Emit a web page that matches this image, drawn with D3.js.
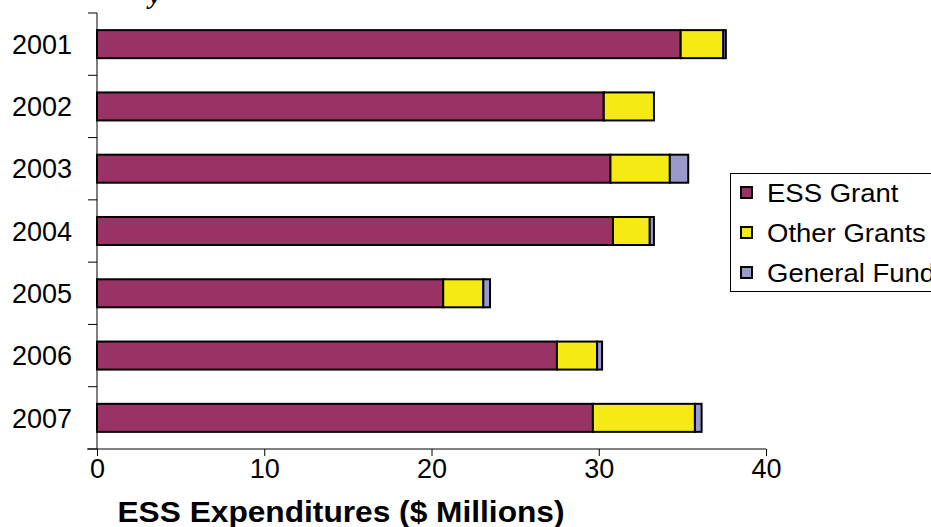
<!DOCTYPE html>
<html>
<head>
<meta charset="utf-8">
<script src="https://cdn.jsdelivr.net/npm/d3@7"></script>
<style>
  html, body { margin: 0; padding: 0; background: #fff; }
  svg { display: block; }
  text { font-family: Arial, "Liberation Sans", sans-serif; fill: #000; }
</style>
</head>
<body>
<svg id="chart" width="931" height="527"></svg>
<script>
// ---- data ----
const years = ["2001", "2002", "2003", "2004", "2005", "2006", "2007"];
const essGrant     = [34.9, 30.3, 30.7, 30.85, 20.7, 27.5, 29.65];
const otherGrants  = [2.55, 3.0, 3.55, 2.2, 2.4, 2.4, 6.1];
const generalFund  = [0.15, 0.0, 1.1, 0.25, 0.4, 0.3, 0.4];
const seriesNames  = ["ESS Grant", "Other Grants", "General Fund"];
const xTicks       = [0, 10, 20, 30, 40];
const xTitle       = "ESS Expenditures ($ Millions)";
const colors       = ["#993366", "#f5ea14", "#9999cc"];

const rows = years.map((yr, i) => ({
  year: yr, "ESS Grant": essGrant[i], "Other Grants": otherGrants[i], "General Fund": generalFund[i]
}));

const svg = d3.select("#chart");

const x = d3.scaleLinear().domain([0, 40]).range([97, 766]);
const y = d3.scaleBand().domain(years).range([13, 449]).paddingInner(0.55).paddingOuter(0.275);

// cut-off title glyph at the top
svg.append("text").attr("x", 149).attr("y", 4)
  .style("font-family", "'Liberation Serif', 'Times New Roman', serif")
  .style("font-style", "italic").style("font-weight", "bold").style("font-size", "26px")
  .text("y");

// stacked bars
const stack = d3.stack().keys(seriesNames)(rows);
svg.append("g").selectAll("g").data(stack).join("g")
  .attr("fill", (d, i) => colors[i])
  .selectAll("rect").data(d => d.filter(s => s[1] - s[0] > 0)).join("rect")
  .attr("x", d => x(d[0]))
  .attr("y", d => y(d.data.year))
  .attr("width", d => x(d[1]) - x(d[0]))
  .attr("height", y.bandwidth())
  .attr("stroke", "#000").attr("stroke-width", 2);

// y axis line + ticks at band boundaries
const yAxisG = svg.append("g");
yAxisG.append("line").attr("x1", x(0)).attr("x2", x(0))
  .attr("y1", y.range()[0]).attr("y2", y.range()[1]).attr("stroke", "#000").attr("stroke-width", 1);
const bounds = d3.range(years.length + 1).map(i => y.range()[0] + i * y.step());
yAxisG.selectAll("line.tk").data(bounds).join("line").attr("class", "tk")
  .attr("x1", x(0) - 9).attr("x2", x(0)).attr("y1", d => d).attr("y2", d => d)
  .attr("stroke", "#000").attr("stroke-width", 1);
yAxisG.selectAll("text").data(years).join("text")
  .attr("x", 72).attr("y", d => y(d) + y.bandwidth() / 2).attr("dy", "0.36em")
  .attr("text-anchor", "end").style("font-size", "27px").text(d => d);

// x axis
const xAxis = d3.axisBottom(x).tickValues(xTicks).tickSize(7).tickPadding(3).tickFormat(d3.format("d"));
const xg = svg.append("g").attr("transform", `translate(0,${y.range()[1]})`).call(xAxis);
xg.select(".domain").remove();
xg.append("line").attr("x1", 87).attr("x2", x(40)).attr("y1", 0).attr("y2", 0)
  .attr("stroke", "#000").attr("stroke-width", 1);
xg.selectAll(".tick line").attr("stroke", "#000");
xg.selectAll(".tick text").style("font-size", "27px").style("font-family", "Arial, 'Liberation Sans', sans-serif").attr("fill", "#000");

// x title
svg.append("text").attr("x", 341).attr("y", 522).attr("text-anchor", "middle")
  .attr("textLength", 447).attr("lengthAdjust", "spacingAndGlyphs")
  .style("font-size", "30px").style("font-weight", "bold").text(xTitle);

// legend
const lg = svg.append("g");
lg.append("rect").attr("x", 730.5).attr("y", 173.5).attr("width", 260).attr("height", 118)
  .attr("fill", "#fff").attr("stroke", "#000").attr("stroke-width", 1);
const items = lg.selectAll("g").data(seriesNames).join("g")
  .attr("transform", (d, i) => `translate(741,${193 + i * 40})`);
items.append("rect").attr("x", 0).attr("y", -6).attr("width", 11).attr("height", 11)
  .attr("fill", (d, i) => colors[i]).attr("stroke", "#000").attr("stroke-width", 2);
items.append("text").attr("transform", "translate(26,0) scale(1.1,1)").attr("dy", "0.36em")
  .style("font-size", "25px").text(d => d);
</script>
</body>
</html>
